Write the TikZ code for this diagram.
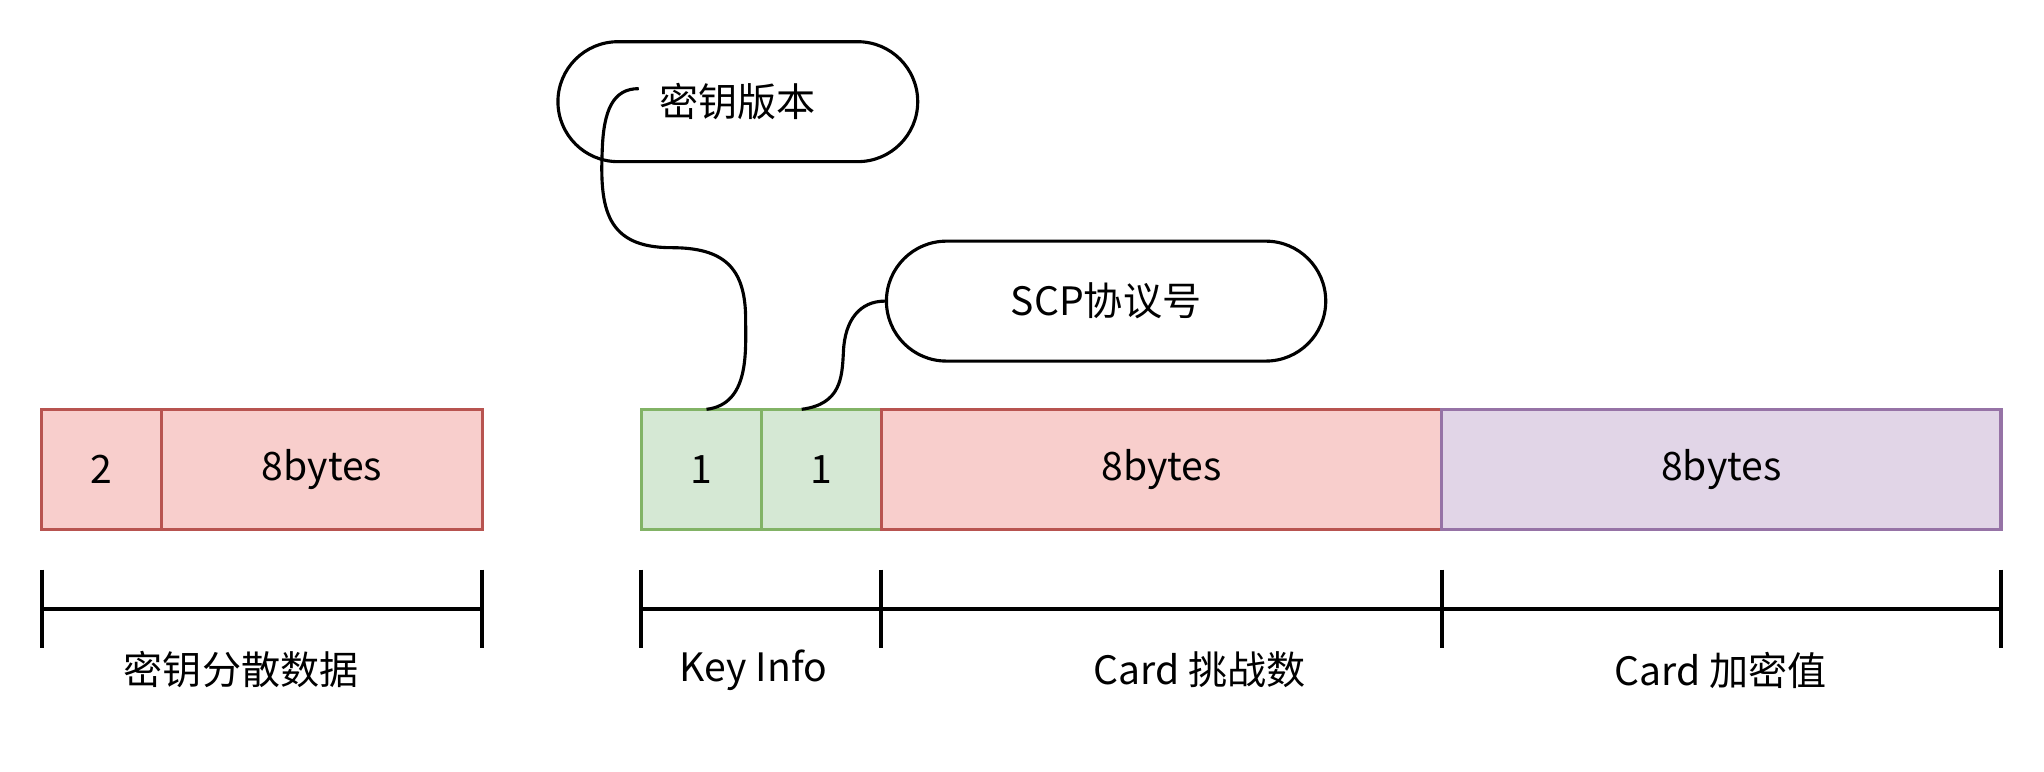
\documentclass[tikz,border=0pt]{standalone}
\usepackage{fontspec}
\setmainfont{Liberation Sans}
\newfontfamily\cjk{Noto Sans CJK SC}
\definecolor{rf}{HTML}{F8CECC}\definecolor{rs}{HTML}{B85450}
\definecolor{gf}{HTML}{D5E8D4}\definecolor{gs}{HTML}{82B366}
\definecolor{pf}{HTML}{E1D5E7}\definecolor{ps}{HTML}{9673A6}
\begin{document}
\begin{tikzpicture}[x=0.5pt,y=-0.5pt,
  every node/.style={font=\fontsize{15pt}{18pt}\selectfont\cjk, inner sep=0pt},
  cell/.style={draw, line width=1.2pt, minimum height=46pt},
  red/.style={cell, fill=rf, draw=rs},
  grn/.style={cell, fill=gf, draw=gs},
  pur/.style={cell, fill=pf, draw=ps},
  callout/.style={draw, line width=1.2pt, rounded corners=23pt, minimum height=46pt, fill=white},
  brk/.style={line width=1.5pt},
  lnk/.style={line width=1.2pt}]
\useasboundingbox (0,0) rectangle (1568,592);
% boxes
\node[red, minimum width=46pt] (a1) at (78,360) {2};
\node[red, minimum width=123pt] (a2) at (247,360) {8bytes};
\node[grn, minimum width=46pt] (g1) at (538,360) {1};
\node[grn, minimum width=46pt] (g2) at (630,360) {1};
\node[red, minimum width=215pt] (r2) at (891,360) {8bytes};
\node[pur, minimum width=214.5pt] (p2) at (1320.5,360) {8bytes};
% callouts
\node[callout, minimum width=138pt] (c1) at (566,78) {密钥版本};
\node[callout, minimum width=168.5pt] (c2) at (848.5,231) {SCP协议号};
\coordinate (s1) at (542,314);
\coordinate (e1) at (490,68);
\coordinate (s2) at (615,314);
\draw[lnk] (s1) .. controls (575,310) and (572,270) .. (572,245)
  .. controls (572,205) and (555,190) .. (515,190)
  .. controls (465,190) and (460,160) .. (462,115)
  .. controls (463,85) and (470,68) .. (e1);
\draw[lnk] (s2) .. controls (645,310) and (646,290) .. (647,270)
  .. controls (648,245) and (660,231) .. (c2.west);
% brackets
\coordinate (b0) at (32,467); \coordinate (b1) at (370,467);
\coordinate (k0) at (492,467); \coordinate (k1) at (676,467);
\coordinate (k2) at (1106,467); \coordinate (k3) at (1535,467);
\draw[brk] (b0) -- (b1);
\draw[brk] (k0) -- (k3);
\foreach \p in {b0,b1,k0,k1,k2,k3} \draw[brk] ([yshift=15pt]\p) -- ([yshift=-15pt]\p);
\node (l1) at (185,514) {密钥分散数据};
\node (l2) at (578,514) {Key Info};
\node (l3) at (920,514) {Card 挑战数};
\node (l4) at (1320,514) {Card 加密值};
\end{tikzpicture}
\end{document}
